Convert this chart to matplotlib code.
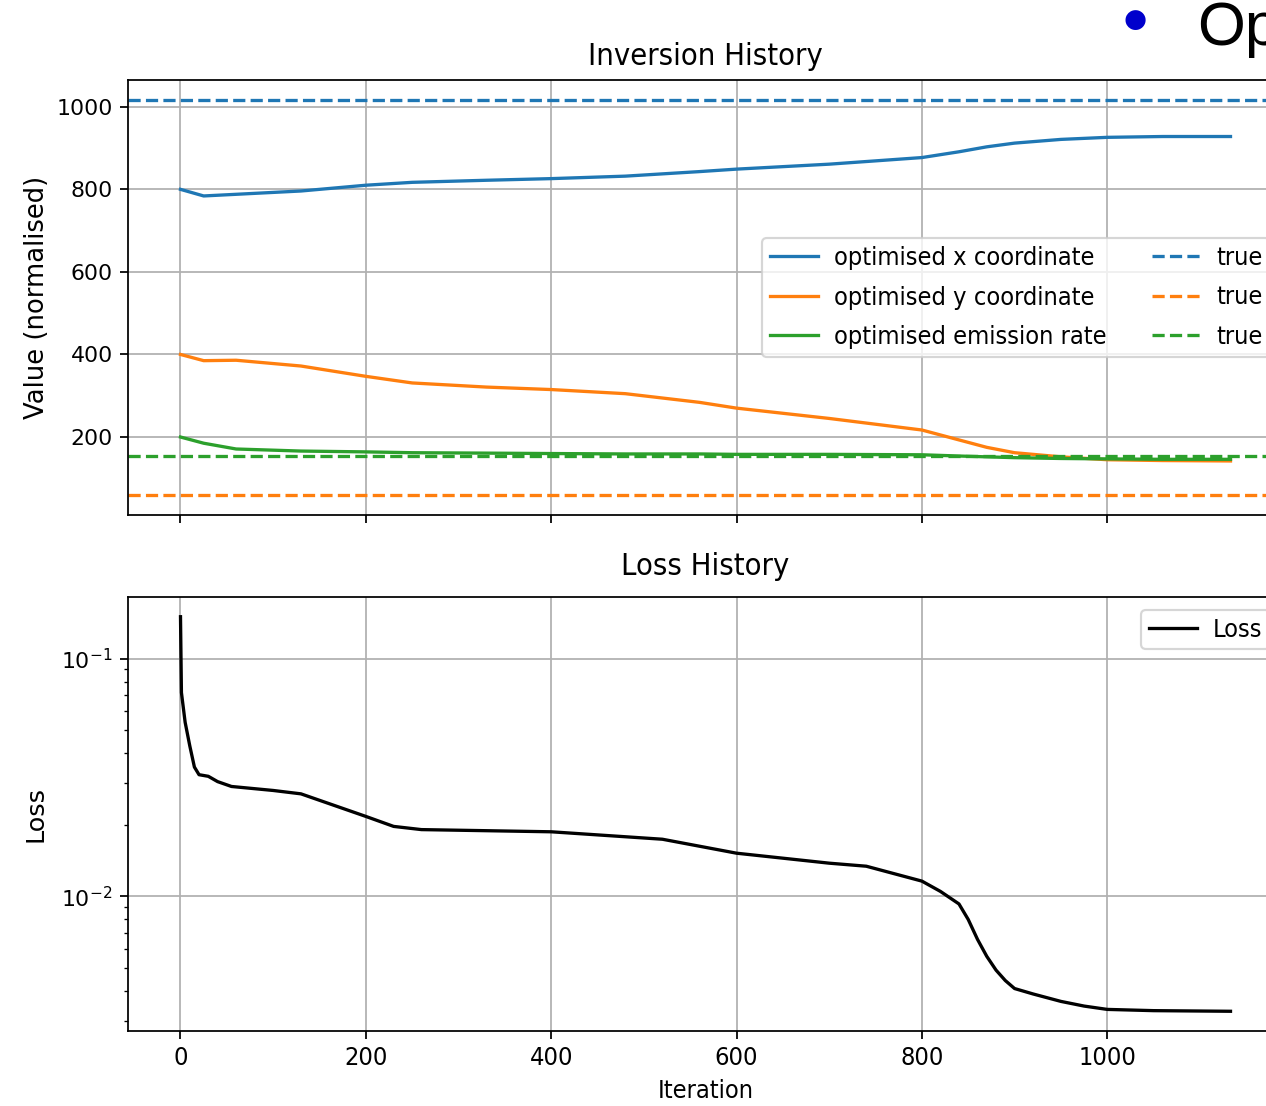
import matplotlib
matplotlib.use("Agg")
import matplotlib.pyplot as plt

# ---- data ----
iters = [0, 25, 60, 130, 200, 250, 330, 400, 480, 560, 600, 700, 800, 840, 870, 900, 950, 1000, 1060, 1133]
opt_x = [800, 784, 788, 796, 810, 817, 822, 826, 832, 843, 849, 861, 877, 891, 903, 912, 921, 926, 928, 928]
opt_y = [400, 385, 386, 372, 347, 331, 321, 315, 305, 284, 270, 245, 217, 193, 175, 162, 152, 145, 143, 142]
opt_q = [200, 185, 171, 166, 164, 162, 161, 160, 159, 159, 158, 158, 157, 154, 152, 150, 148, 147, 146, 146]
true_x = 1017
true_y = 59
true_q = 154

loss_iters = [0, 1, 5, 10, 15, 20, 30, 40, 55, 100, 130, 200, 230, 260, 400, 520, 600, 700, 740,
              800, 820, 840, 850, 860, 870, 880, 890, 900, 920, 950, 975, 1000, 1050, 1133]
loss_vals = [0.15, 0.072, 0.054, 0.043, 0.035, 0.0325, 0.032, 0.0304, 0.029, 0.0279, 0.0270, 0.0217,
             0.0197, 0.0191, 0.0187, 0.0174, 0.0152, 0.0138, 0.0134,
             0.0116, 0.0105, 0.0093, 0.0080, 0.0066, 0.0056, 0.0049, 0.00443, 0.0041, 0.00389,
             0.00362, 0.00346, 0.00335, 0.00331, 0.00329]

COND = dict(family="DejaVu Sans", stretch="condensed")

DPI = 158
fig = plt.figure(figsize=(1267 / DPI, 1106 / DPI), dpi=DPI)

W, H = 1267.0, 1106.0
left = 128 / W
width = (1283 - 128) / W
ax1 = fig.add_axes([left, 1 - 515 / H, width, 435 / H])
ax2 = fig.add_axes([left, 1 - 1031 / H, width, 434 / H], sharex=ax1)

ax1.plot(iters, opt_x, color="C0", label="optimised x coordinate")
ax1.plot(iters, opt_y, color="C1", label="optimised y coordinate")
ax1.plot(iters, opt_q, color="C2", label="optimised emission rate")
ax1.axhline(true_x, color="C0", linestyle="--", label="true")
ax1.axhline(true_y, color="C1", linestyle="--", label="true")
ax1.axhline(true_q, color="C2", linestyle="--", label="true")
ax1.set_title("Inversion History", fontsize=14, pad=7, **COND)
ax1.set_ylabel("Value (normalised)", fontsize=11.8, labelpad=3)
ax1.grid(True)
h, l = ax1.get_legend_handles_labels()
ax1.legend(h, l, ncol=2, loc="center left",
           bbox_to_anchor=((762 - 128) / 1155, 0.5), borderaxespad=0,
           prop=dict(size=11.5, **COND),
           handlelength=1.9, handletextpad=0.65, columnspacing=1.8,
           labelspacing=0.62, borderpad=0.3)
plt.setp(ax1.get_xticklabels(), visible=False)

ax2.plot(loss_iters, loss_vals, color="black", label="Loss")
ax2.set_yscale("log")
ax2.set_title("Loss History", fontsize=14, pad=10, **COND)
ax2.set_ylabel("Loss", fontsize=11.6, labelpad=6)
ax2.set_xlabel("Iteration", fontsize=11.5, labelpad=4, **COND)
ax2.grid(True)
ax2.legend(loc="upper left", bbox_to_anchor=((1141 - 128) / 1155, (1031 - 610) / 434),
           borderaxespad=0, prop=dict(size=11.5, **COND),
           handlelength=1.9, handletextpad=0.65, borderpad=0.3)
for t in ax2.get_xticklabels():
    t.set_family("DejaVu Sans")
    t.set_stretch("condensed")
    t.set_fontsize(11.5)

# slide fragment at top right
fig.text(1135 / W, 1 - 20 / H, "\u25cf", color="#0000cc", fontsize=12,
         ha="center", va="center", family="DejaVu Sans")
fig.text(1197 / W, 1 - 45 / H, "Op", color="black", fontsize=28,
         ha="left", va="baseline", family="Liberation Sans")

fig.savefig("out.png", dpi=DPI)
